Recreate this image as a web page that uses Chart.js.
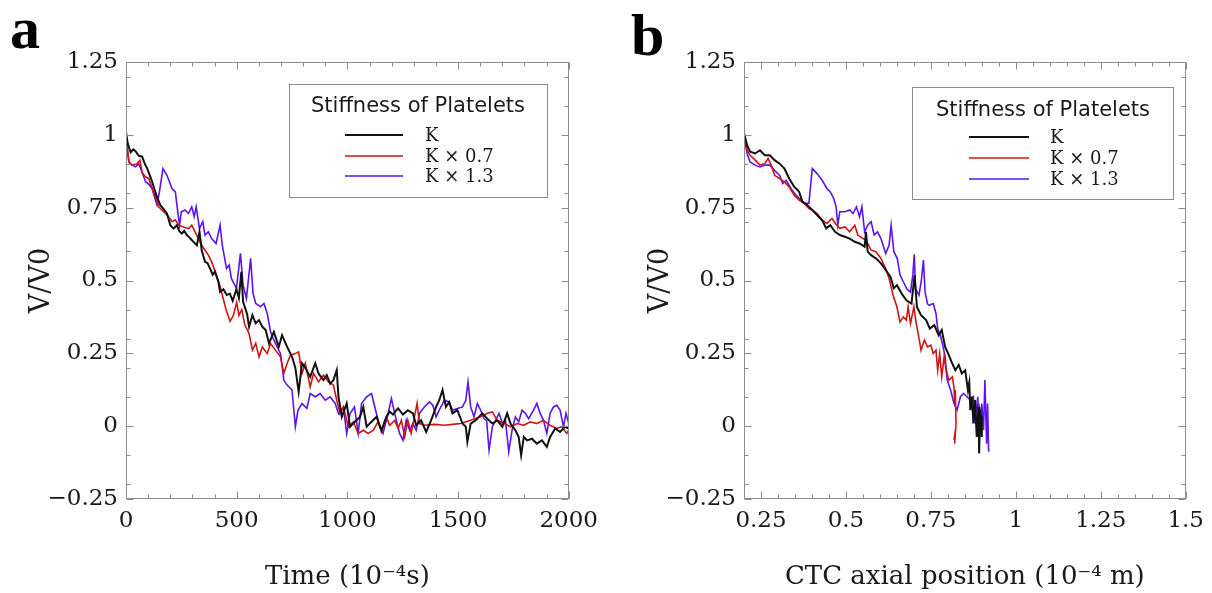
<!DOCTYPE html>
<html><head><meta charset="utf-8">
<script src="https://cdn.jsdelivr.net/npm/chart.js@4.4.1/dist/chart.umd.min.js"></script>
<style>
html,body{margin:0;padding:0;background:#fff;}
body{width:1212px;height:593px;position:relative;overflow:hidden;}
.panel{position:absolute;top:0;width:606px;height:593px;}
</style></head><body>
<div class="panel" style="left:0"><canvas id="ca" width="606" height="593"></canvas></div>
<div class="panel" style="left:606px"><canvas id="cb" width="606" height="593"></canvas></div>
<script>
// ---------------- DATA ----------------
const seriesLabels = ['K', 'K \u00d7 0.7', 'K \u00d7 1.3'];
const legendTitle = 'Stiffness of Platelets';
const panelLetters = ['a', 'b'];
const xTitleA = 'Time (10\u207b\u2074s)';
const xTitleB = 'CTC axial position (10\u207b\u2074 m)';
const yTitle = 'V/V0';

const yTickValues = [-0.25, 0, 0.25, 0.5, 0.75, 1, 1.25];
const yTickLabels = ['\u22120.25', '0', '0.25', '0.5', '0.75', '1', '1.25'];
const xTickValuesA = [0, 500, 1000, 1500, 2000];
const xTickLabelsA = ['0', '500', '1000', '1500', '2000'];
const xTickValuesB = [0.25, 0.5, 0.75, 1, 1.25, 1.5];
const xTickLabelsB = ['0.25', '0.5', '0.75', '1', '1.25', '1.5'];

// panel a: [time (1e-4 s), V/V0]
const timeSeriesK = [[0,1.01],[8,0.97],[21,0.94],[33,0.95],[43,0.944],[58,0.928],[73,0.925],[85,0.9],[96,0.884],[108,0.86],[118,0.839],[130,0.81],[140,0.787],[155,0.759],[170,0.745],[185,0.73],[200,0.69],[215,0.678],[230,0.69],[240,0.67],[252,0.661],[263,0.67],[275,0.656],[286,0.648],[297,0.639],[308,0.63],[320,0.621],[332,0.667],[342,0.604],[357,0.564],[368,0.56],[380,0.541],[392,0.52],[402,0.53],[417,0.496],[425,0.461],[440,0.47],[455,0.45],[469,0.455],[482,0.43],[499,0.47],[510,0.44],[521,0.53],[529,0.427],[547,0.385],[556,0.341],[571,0.381],[586,0.353],[601,0.364],[616,0.341],[631,0.33],[646,0.284],[668,0.324],[690,0.272],[705,0.312],[728,0.272],[750,0.238],[765,0.2],[780,0.118],[795,0.216],[810,0.2],[832,0.169],[855,0.216],[870,0.18],[892,0.158],[907,0.175],[922,0.146],[937,0.158],[952,0.192],[960,0.1],[975,0.032],[997,0.078],[1012,-0.002],[1034,0.015],[1057,0.032],[1072,0.066],[1087,-0.002],[1109,0.015],[1132,0.032],[1154,-0.014],[1176,0.032],[1191,0.05],[1206,0.04],[1229,0.061],[1251,0.04],[1273,0.055],[1296,0.044],[1311,0.003],[1333,0.02],[1356,-0.02],[1378,0.02],[1401,0.066],[1415,0.089],[1430,0.124],[1445,0.066],[1460,0.083],[1475,0.044],[1497,0.055],[1520,0.009],[1535,-0.002],[1542,-0.054],[1557,0.009],[1580,0.02],[1594,0.032],[1610,0.044],[1632,0.026],[1655,0.009],[1677,0.02],[1700,-0.002],[1722,0.044],[1737,0.009],[1759,-0.014],[1774,-0.037],[1785,-0.1],[1797,-0.037],[1812,-0.049],[1834,-0.043],[1856,-0.06],[1879,-0.049],[1901,-0.071],[1916,-0.037],[1939,-0.008],[1961,-0.02],[1983,-0.002],[2000,-0.008]];

const timeSeriesK07 = [[0,1.0],[13,0.907],[28,0.896],[48,0.9],[63,0.913],[73,0.87],[88,0.856],[103,0.85],[118,0.816],[133,0.788],[148,0.753],[170,0.736],[193,0.719],[208,0.702],[223,0.708],[238,0.69],[260,0.684],[283,0.678],[297,0.69],[312,0.667],[327,0.644],[342,0.621],[357,0.604],[372,0.587],[387,0.564],[409,0.518],[424,0.484],[439,0.438],[452,0.4],[470,0.36],[485,0.38],[500,0.425],[510,0.38],[523,0.4],[537,0.347],[556,0.318],[571,0.261],[586,0.284],[601,0.238],[616,0.272],[638,0.249],[653,0.284],[675,0.261],[698,0.238],[713,0.181],[728,0.216],[743,0.244],[765,0.249],[780,0.255],[795,0.181],[810,0.216],[832,0.135],[847,0.181],[870,0.152],[892,0.175],[915,0.152],[937,0.141],[952,0.089],[967,0.043],[982,0.066],[1004,-0.002],[1027,0.015],[1049,-0.025],[1072,-0.014],[1094,-0.025],[1117,-0.014],[1139,0.015],[1154,-0.02],[1176,0.032],[1191,0.003],[1214,0.02],[1229,-0.008],[1244,0.02],[1259,-0.037],[1273,0.02],[1288,-0.025],[1303,0.032],[1315,0.078],[1326,0.009],[1348,0.003],[1393,0.006],[1438,0.003],[1475,0.006],[1512,0.009],[1557,0.02],[1602,0.032],[1632,0.044],[1655,0.049],[1677,0.02],[1707,0.009],[1737,-0.002],[1767,0.009],[1797,0.003],[1826,0.015],[1856,0.009],[1886,0.02],[1916,0.003],[1946,-0.008],[1968,-0.002],[1991,-0.025],[2000,-0.014]];

const timeSeriesK13 = [[0,0.98],[13,0.907],[28,0.895],[43,0.89],[58,0.9],[73,0.87],[88,0.84],[103,0.83],[118,0.815],[133,0.776],[140,0.759],[151,0.804],[167,0.884],[185,0.861],[208,0.816],[223,0.804],[230,0.759],[242,0.69],[250,0.736],[267,0.742],[282,0.73],[297,0.753],[308,0.719],[317,0.753],[332,0.678],[347,0.702],[357,0.656],[372,0.667],[387,0.644],[407,0.627],[425,0.69],[435,0.621],[454,0.541],[466,0.553],[476,0.507],[499,0.473],[517,0.593],[529,0.484],[544,0.438],[563,0.576],[574,0.455],[586,0.421],[608,0.41],[623,0.421],[638,0.387],[653,0.324],[668,0.295],[683,0.272],[698,0.249],[713,0.158],[728,0.141],[750,0.124],[765,-0.002],[777,0.055],[795,0.078],[817,0.061],[832,0.112],[855,0.101],[877,0.112],[900,0.089],[922,0.101],[945,0.078],[960,0.043],[982,0.066],[997,-0.025],[1012,0.043],[1032,0.066],[1049,-0.025],[1064,0.078],[1087,0.101],[1109,0.112],[1124,0.066],[1146,-0.002],[1161,-0.025],[1184,0.043],[1199,0.095],[1214,0.043],[1236,-0.025],[1251,-0.048],[1266,0.02],[1281,-0.014],[1296,0.009],[1311,-0.014],[1326,0.044],[1348,0.066],[1371,0.083],[1386,0.072],[1401,0.032],[1415,0.055],[1438,0.089],[1460,0.083],[1475,0.055],[1497,0.061],[1520,0.066],[1535,0.089],[1545,0.152],[1557,0.066],[1572,0.032],[1587,0.078],[1602,0.055],[1617,0.026],[1629,0.02],[1640,-0.082],[1655,-0.002],[1670,0.02],[1685,0.044],[1700,0.009],[1714,0.02],[1729,-0.088],[1744,-0.014],[1759,0.032],[1774,0.015],[1789,0.055],[1804,0.044],[1819,0.026],[1841,0.055],[1856,0.078],[1871,0.044],[1886,0.02],[1901,-0.025],[1916,0.044],[1931,0.066],[1946,0.072],[1961,0.055],[1976,-0.002],[1988,0.044],[2000,0.009]];

// panel b: [axial position (1e-4 m), V/V0]
const posSeriesK = [[0.2,1.005],[0.209,0.965],[0.218,0.942],[0.233,0.936],[0.247,0.947],[0.261,0.93],[0.276,0.93],[0.29,0.913],[0.305,0.901],[0.319,0.884],[0.333,0.85],[0.348,0.821],[0.362,0.805],[0.372,0.77],[0.386,0.759],[0.401,0.742],[0.415,0.725],[0.43,0.707],[0.442,0.679],[0.454,0.69],[0.468,0.667],[0.482,0.656],[0.497,0.65],[0.511,0.644],[0.526,0.633],[0.54,0.627],[0.555,0.616],[0.559,0.667],[0.564,0.599],[0.574,0.587],[0.588,0.576],[0.603,0.559],[0.617,0.536],[0.631,0.513],[0.641,0.473],[0.65,0.484],[0.664,0.455],[0.678,0.432],[0.693,0.421],[0.702,0.518],[0.709,0.409],[0.721,0.381],[0.736,0.364],[0.747,0.335],[0.76,0.347],[0.773,0.312],[0.782,0.33],[0.792,0.272],[0.801,0.249],[0.813,0.215],[0.822,0.192],[0.832,0.21],[0.841,0.181],[0.851,0.192],[0.859,0.124],[0.863,0.15],[0.866,0.055],[0.871,0.101],[0.875,0.009],[0.88,0.09],[0.885,-0.037],[0.89,0.066],[0.892,-0.094],[0.895,0.05],[0.898,0.032],[0.9,-0.037]];

const posSeriesK07 = [[0.2,1.0],[0.209,0.947],[0.218,0.93],[0.233,0.913],[0.247,0.896],[0.261,0.901],[0.271,0.919],[0.28,0.896],[0.29,0.861],[0.305,0.85],[0.319,0.838],[0.333,0.821],[0.348,0.793],[0.362,0.776],[0.377,0.765],[0.391,0.747],[0.401,0.742],[0.415,0.73],[0.43,0.707],[0.444,0.696],[0.459,0.713],[0.473,0.69],[0.482,0.679],[0.497,0.684],[0.511,0.667],[0.526,0.69],[0.535,0.656],[0.55,0.644],[0.559,0.639],[0.574,0.604],[0.588,0.599],[0.603,0.576],[0.617,0.541],[0.627,0.507],[0.64,0.444],[0.65,0.41],[0.659,0.358],[0.669,0.375],[0.678,0.364],[0.683,0.41],[0.69,0.352],[0.7,0.41],[0.707,0.352],[0.717,0.289],[0.721,0.261],[0.731,0.295],[0.74,0.272],[0.75,0.278],[0.757,0.249],[0.765,0.261],[0.77,0.192],[0.776,0.249],[0.782,0.169],[0.789,0.238],[0.795,0.192],[0.803,0.158],[0.813,0.169],[0.818,0.135],[0.82,0.078],[0.822,0.124],[0.824,0.009],[0.82,-0.06],[0.822,-0.014],[0.818,-0.048]];

const posSeriesK13 = [[0.2,0.995],[0.209,0.936],[0.218,0.907],[0.233,0.896],[0.247,0.89],[0.261,0.896],[0.276,0.896],[0.29,0.878],[0.305,0.861],[0.314,0.833],[0.324,0.844],[0.338,0.816],[0.353,0.793],[0.367,0.776],[0.381,0.765],[0.391,0.765],[0.401,0.884],[0.415,0.867],[0.43,0.844],[0.444,0.816],[0.454,0.804],[0.464,0.782],[0.471,0.753],[0.476,0.69],[0.482,0.736],[0.497,0.736],[0.511,0.742],[0.521,0.73],[0.531,0.753],[0.54,0.719],[0.547,0.753],[0.555,0.667],[0.564,0.69],[0.574,0.702],[0.583,0.656],[0.593,0.667],[0.603,0.644],[0.617,0.593],[0.627,0.621],[0.633,0.69],[0.641,0.599],[0.651,0.576],[0.659,0.52],[0.667,0.5],[0.68,0.47],[0.69,0.46],[0.697,0.52],[0.701,0.59],[0.705,0.47],[0.715,0.45],[0.722,0.5],[0.728,0.57],[0.733,0.46],[0.74,0.42],[0.745,0.415],[0.757,0.421],[0.765,0.387],[0.77,0.335],[0.779,0.307],[0.786,0.272],[0.792,0.238],[0.798,0.158],[0.808,0.124],[0.818,0.078],[0.827,0.055],[0.837,0.101],[0.846,0.112],[0.856,0.101],[0.866,0.09],[0.875,0.101],[0.88,0.009],[0.888,0.101],[0.893,-0.037],[0.9,0.078],[0.905,-0.014],[0.909,0.158],[0.914,-0.06],[0.917,0.078],[0.92,-0.088]];

// ---------------- STYLE ----------------
const seriesColors = ['#111111', '#d01414', '#5a14f0'];
const seriesWidths = [2, 1.6, 1.6];
const serif = "'DejaVu Serif', serif";
const sans = "'DejaVu Sans', sans-serif";
const frameColor = '#8c8c8c';
const textColor = '#1a1a1a';

Chart.defaults.devicePixelRatio = 1;

const framePlugin = {
  id: 'frame',
  afterDatasetsDraw(chart, args, o) {
    const {ctx, chartArea: a, scales} = chart;
    const x = scales.x, y = scales.y;
    ctx.save();
    ctx.strokeStyle = frameColor;
    ctx.lineWidth = 1;
    const L = Math.round(a.left) + 0.5, R = Math.round(a.right) - 0.5;
    const T = Math.round(a.top) + 0.5, B = Math.round(a.bottom) - 0.5;
    ctx.strokeRect(L, T, R - L, B - T);
    const major = 7, minor = 4;
    const near = (v, arr, eps) => arr.some(m => Math.abs(m - v) < eps);
    ctx.beginPath();
    const xm = o.xMajor;
    for (const v of xm) {
      const p = Math.round(x.getPixelForValue(v)) + 0.5;
      ctx.moveTo(p, B); ctx.lineTo(p, B - major);
      ctx.moveTo(p, T); ctx.lineTo(p, T + major);
    }
    for (let i = Math.ceil(x.min / o.xMinor - 1e-9); i * o.xMinor <= x.max + 1e-9; i++) {
      const v = i * o.xMinor;
      if (near(v, xm, o.xMinor * 0.3)) continue;
      const p = Math.round(x.getPixelForValue(v)) + 0.5;
      ctx.moveTo(p, B); ctx.lineTo(p, B - minor);
      ctx.moveTo(p, T); ctx.lineTo(p, T + minor);
    }
    const ym = o.yMajor;
    for (const v of ym) {
      const p = Math.round(y.getPixelForValue(v)) + 0.5;
      ctx.moveTo(L, p); ctx.lineTo(L + major, p);
      ctx.moveTo(R, p); ctx.lineTo(R - major, p);
    }
    for (let i = Math.ceil(y.min / o.yMinor - 1e-9); i * o.yMinor <= y.max + 1e-9; i++) {
      const v = i * o.yMinor;
      if (near(v, ym, o.yMinor * 0.3)) continue;
      const p = Math.round(y.getPixelForValue(v)) + 0.5;
      ctx.moveTo(L, p); ctx.lineTo(L + minor, p);
      ctx.moveTo(R, p); ctx.lineTo(R - minor, p);
    }
    ctx.stroke();
    ctx.restore();
  }
};

const legendPlugin = {
  id: 'boxLegend',
  afterDraw(chart, args, o) {
    const ctx = chart.ctx;
    ctx.save();
    ctx.fillStyle = '#fff';
    ctx.fillRect(o.box[0], o.box[1], o.box[2], o.box[3]);
    ctx.strokeStyle = frameColor;
    ctx.lineWidth = 1;
    ctx.strokeRect(o.box[0] + 0.5, o.box[1] + 0.5, o.box[2], o.box[3]);
    ctx.fillStyle = textColor;
    ctx.font = "21px " + sans;
    ctx.textAlign = 'center';
    ctx.textBaseline = 'middle';
    ctx.fillText(legendTitle, o.titleX, o.titleY);
    ctx.font = "18px " + serif;
    ctx.textAlign = 'left';
    chart.data.datasets.forEach((ds, i) => {
      const yy = o.rows[i];
      ctx.strokeStyle = ds.borderColor;
      ctx.lineWidth = ds.borderWidth;
      ctx.beginPath();
      ctx.moveTo(o.lineX[0], yy); ctx.lineTo(o.lineX[1], yy);
      ctx.stroke();
      ctx.fillStyle = textColor;
      ctx.fillText(ds.label, o.textX, yy + 1);
    });
    ctx.restore();
  }
};

const letterPlugin = {
  id: 'panelLetter',
  afterDraw(chart, args, o) {
    const ctx = chart.ctx;
    ctx.save();
    ctx.fillStyle = '#000';
    ctx.font = "bold 60px 'Liberation Serif', serif";
    ctx.textAlign = 'left';
    ctx.textBaseline = 'alphabetic';
    ctx.fillText(o.text, o.x, o.y);
    ctx.restore();
  }
};

function makeDatasets(list) {
  return list.map((pts, i) => ({
    label: seriesLabels[i],
    data: pts.map(p => ({x: p[0], y: p[1]})),
    borderColor: seriesColors[i],
    backgroundColor: seriesColors[i],
    borderWidth: seriesWidths[i],
    pointRadius: 0,
    tension: 0,
    fill: false
  }));
}

function makeChart(id, cfg) {
  return new Chart(document.getElementById(id), {
    type: 'line',
    data: {datasets: makeDatasets(cfg.series)},
    options: {
      responsive: false,
      animation: false,
      devicePixelRatio: 1,
      layout: {padding: cfg.padding},
      plugins: {
        legend: {display: false},
        tooltip: {enabled: false},
        frame: {xMajor: cfg.xTicks, yMajor: yTickValues, xMinor: cfg.xMinor, yMinor: 0.1},
        boxLegend: cfg.legend,
        panelLetter: cfg.letter
      },
      scales: {
        x: {
          type: 'linear', min: cfg.xMin, max: cfg.xMax,
          afterBuildTicks: s => { s.ticks = cfg.xTicks.map(v => ({value: v})); },
          afterFit: s => { s.height = 94; },
          grid: {display: false, drawTicks: false},
          border: {display: false},
          ticks: {
            padding: 8, color: textColor, font: {family: serif, size: 23}, maxRotation: 0, autoSkip: false,
            callback: (v) => { const k = cfg.xTicks.indexOf(v); return k >= 0 ? cfg.xLabels[k] : ''; }
          },
          title: {display: true, text: cfg.xTitle, color: textColor, font: {family: serif, size: 26}, padding: {top: 0, bottom: 0}}
        },
        y: {
          type: 'linear', min: -0.25, max: 1.25,
          afterBuildTicks: s => { s.ticks = yTickValues.map(v => ({value: v})); },
          afterFit: s => { s.width = cfg.yWidth; },
          grid: {display: false, drawTicks: false},
          border: {display: false},
          ticks: {
            padding: 8, color: textColor, font: {family: serif, size: 23}, autoSkip: false,
            callback: (v) => { const k = yTickValues.indexOf(v); return k >= 0 ? yTickLabels[k] : ''; }
          },
          title: {display: true, text: yTitle, color: textColor, font: {family: serif, size: 27}, padding: {top: cfg.yTitlePad, bottom: 0}}
        }
      }
    },
    plugins: [framePlugin, legendPlugin, letterPlugin]
  });
}

makeChart('ca', {
  series: [timeSeriesK, timeSeriesK07, timeSeriesK13],
  padding: {left: 0, right: 34, top: 62, bottom: 0},
  xMin: 0, xMax: 2000, xTicks: xTickValuesA, xLabels: xTickLabelsA, xMinor: 100,
  xTitle: xTitleA, yWidth: 126, yTitlePad: 26,
  legend: {box: [289, 84, 258, 113], titleX: 418, titleY: 107, lineX: [345, 403], rows: [135, 156, 176], textX: 425},
  letter: {text: panelLetters[0], x: 10, y: 48}
});

makeChart('cb', {
  series: [posSeriesK, posSeriesK07, posSeriesK13],
  padding: {left: 0, right: 18, top: 62, bottom: 0},
  xMin: 0.2, xMax: 1.5, xTicks: xTickValuesB, xLabels: xTickLabelsB, xMinor: 0.05,
  xTitle: xTitleB, yWidth: 138, yTitlePad: 39,
  legend: {box: [306, 87, 261, 112], titleX: 437, titleY: 111, lineX: [363, 423], rows: [137, 158, 179], textX: 444},
  letter: {text: panelLetters[1], x: 25, y: 55}
});
</script>
</body></html>
